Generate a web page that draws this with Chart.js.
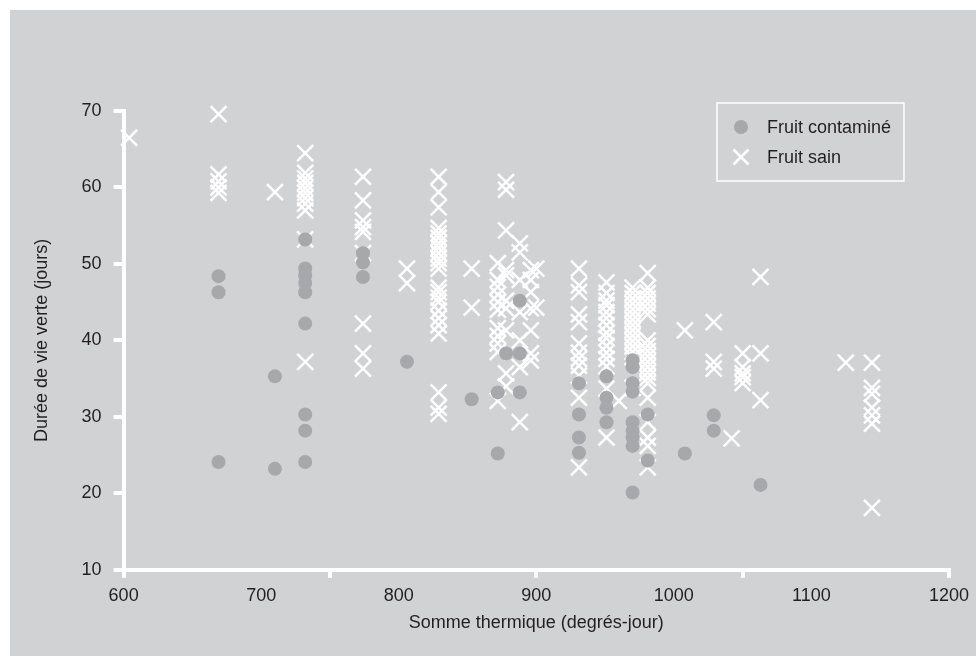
<!DOCTYPE html>
<html lang="fr">
<head>
    <meta charset="UTF-8">
    <title>Durée de vie verte et somme thermique</title>
    <script src="https://cdn.jsdelivr.net/npm/chart.js@4.4.1/dist/chart.umd.min.js"></script>
    <style>
        html, body {
            margin: 0;
            padding: 0;
            background: #fff;
        }
        .panel {
            position: absolute;
            left: 10px;
            top: 10px;
            width: 966px;
            height: 646px;
            background: #d1d2d4;
        }
        canvas {
            display: block;
        }
    </style>
</head>
<body>
    <div class="panel"><canvas id="chart" width="966" height="646"></canvas></div>

    <script>
        // Somme thermique (degrés-jour) of each column, and the durations read in that column
        const contamineSommes = [669, 710, 732, 774, 806, 853, 872, 878, 888, 931, 951, 970, 981, 1008, 1029, 1063];
        const contamineDurees = [
            [48.4, 46.3, 24.1],
            [35.3, 23.2],
            [53.2, 49.4, 48.5, 47.5, 46.3, 42.2, 30.3, 28.2, 24.1],
            [51.4, 50.2, 48.3],
            [37.2],
            [32.3],
            [33.2, 25.2],
            [38.3],
            [45.2, 38.3, 33.2],
            [34.4, 30.3, 27.3, 25.3],
            [35.3, 32.5, 31.2, 29.3],
            [37.4, 36.5, 34.4, 33.3, 29.3, 28.2, 27.3, 26.2, 20.1],
            [30.3, 24.3],
            [25.2],
            [30.2, 28.2],
            [21.1]
        ];

        const sainSommes = [604, 669, 710, 732, 774, 806, 829, 853, 872, 878, 888, 896, 900, 931, 951, 960, 970, 981, 1008, 1029, 1042, 1050, 1063, 1125, 1144];
        const sainDurees = [
            [66.5],
            [69.6, 61.7, 60.8, 60.0, 59.3],
            [59.4],
            [64.5, 61.9, 61.2, 60.6, 59.9, 59.3, 58.6, 57.9, 57.0, 53.2, 37.2],
            [61.4, 58.3, 55.7, 54.8, 54.2, 51.4, 42.2, 38.3, 36.3],
            [49.4, 47.5],
            [61.4, 59.4, 57.4, 54.7, 54.0, 53.4, 52.7, 52.1, 51.4, 50.7, 50.1, 49.4,
             46.9, 46.3, 45.6, 45.0, 43.9, 42.9, 42.0, 40.9, 33.2, 31.2, 30.4],
            [49.4, 44.3],
            [50.1, 47.9, 47.0, 46.0, 45.0, 44.0, 41.6, 40.6, 39.6, 38.5, 32.1],
            [60.7, 59.7, 54.4, 49.2, 48.5, 45.2, 44.2, 41.3, 35.7, 34.0],
            [52.7, 51.5, 47.9, 43.7, 40.0, 36.5, 29.3],
            [49.2, 47.9, 46.3, 44.2, 41.3, 38.3, 37.4],
            [49.4, 44.3],
            [49.4, 47.2, 46.3, 43.4, 42.4, 39.6, 38.4, 37.6, 36.7, 35.4, 32.5, 23.4],
            [47.6, 46.2, 45.2, 44.6, 43.7, 42.9, 42.0, 41.0, 40.3, 39.3, 38.4, 37.6, 36.6, 33.7, 27.3],
            [32.1],
            [46.9, 46.2, 45.5, 44.8, 44.1, 43.4, 42.7, 42.0, 41.3, 40.6, 39.9, 39.2, 38.5, 37.8, 33.8],
            [48.8, 46.9, 46.2, 45.5, 44.8, 44.1, 43.4, 40.0, 39.3, 38.6, 37.9, 37.2, 36.5,
             35.8, 35.1, 34.4, 32.5, 29.3, 27.3, 26.2, 23.4],
            [41.3],
            [42.4, 37.2, 36.3],
            [27.2],
            [38.3, 36.5, 35.7, 35.2, 34.4],
            [48.3, 38.3, 32.2],
            [37.1],
            [37.1, 33.8, 33.0, 31.2, 30.2, 29.1, 18.1]
        ];

        const seriesLabels = ['Fruit contaminé', 'Fruit sain'];
        const xLabelStep = 100;   // labels every 100
        const xMarkStep = 150;    // tick marks every 150

        function toPoints(sommes, durees) {
            const points = [];
            sommes.forEach((x, i) => {
                durees[i].forEach(y => points.push({ x: x, y: y }));
            });
            return points;
        }

        const FONT = '"Liberation Sans", Arial, sans-serif';
        const TEXT = '#231f20';

        // legend drawn in a framed box inside the plot, top right
        const legendBox = {
            id: 'legendBox',
            afterDraw(chart) {
                const { ctx, chartArea } = chart;
                const left = chartArea.right - 232;
                const top = chartArea.top - 8;
                ctx.save();
                ctx.strokeStyle = '#ffffff';
                ctx.lineWidth = 1.5;
                ctx.strokeRect(left, top, 187, 78);
                ctx.font = '18px ' + FONT;
                ctx.textBaseline = 'middle';
                chart.data.datasets.forEach((ds, i) => {
                    const cx = left + 24;
                    const cy = top + 24 + i * 30;
                    if (ds.pointStyle === 'circle') {
                        ctx.beginPath();
                        ctx.arc(cx, cy, 7, 0, Math.PI * 2);
                        ctx.fillStyle = ds.backgroundColor;
                        ctx.fill();
                    } else {
                        ctx.beginPath();
                        ctx.moveTo(cx - 7.5, cy - 7.5);
                        ctx.lineTo(cx + 7.5, cy + 7.5);
                        ctx.moveTo(cx - 7.5, cy + 7.5);
                        ctx.lineTo(cx + 7.5, cy - 7.5);
                        ctx.strokeStyle = ds.borderColor;
                        ctx.lineWidth = ds.borderWidth;
                        ctx.stroke();
                    }
                    ctx.fillStyle = TEXT;
                    ctx.fillText(ds.label, left + 50, cy + 1);
                });
                ctx.restore();
            }
        };

        new Chart(document.getElementById('chart'), {
            type: 'scatter',
            data: {
                datasets: [
                    {
                        label: seriesLabels[0],
                        data: toPoints(contamineSommes, contamineDurees),
                        pointStyle: 'circle',
                        pointRadius: 7,
                        backgroundColor: '#a7a8ab',
                        borderWidth: 0,
                        clip: false
                    },
                    {
                        label: seriesLabels[1],
                        data: toPoints(sainSommes, sainDurees),
                        pointStyle: 'crossRot',
                        pointRadius: 11.3,
                        borderColor: '#ffffff',
                        backgroundColor: '#ffffff',
                        borderWidth: 2.5,
                        clip: false
                    }
                ]
            },
            options: {
                responsive: false,
                devicePixelRatio: 1,
                animation: false,
                events: [],
                layout: {
                    padding: { top: 101, right: 26, bottom: 22, left: 21 }
                },
                plugins: {
                    legend: { display: false },
                    tooltip: { enabled: false }
                },
                scales: {
                    x: {
                        type: 'linear',
                        min: 600,
                        max: 1200,
                        border: { display: true, color: '#ffffff', width: 4 },
                        grid: {
                            drawOnChartArea: false,
                            drawTicks: true,
                            tickLength: 8,
                            lineWidth: 4,
                            color: (c) => (c.tick && c.tick.value % xMarkStep === 0) ? '#ffffff' : 'rgba(0,0,0,0)'
                        },
                        ticks: {
                            stepSize: 50,
                            autoSkip: false,
                            maxRotation: 0,
                            padding: 7,
                            color: TEXT,
                            font: { family: FONT, size: 18 },
                            callback: (v) => v % xLabelStep === 0 ? v : ''
                        },
                        title: {
                            display: true,
                            text: 'Somme thermique (degrés-jour)',
                            color: TEXT,
                            font: { family: FONT, size: 18 },
                            padding: { top: -1, bottom: 0 }
                        }
                    },
                    y: {
                        min: 10,
                        max: 70,
                        border: { display: true, color: '#ffffff', width: 4 },
                        grid: {
                            drawOnChartArea: false,
                            drawTicks: true,
                            tickLength: 10,
                            lineWidth: 4,
                            color: '#ffffff'
                        },
                        ticks: {
                            stepSize: 10,
                            padding: 12,
                            color: TEXT,
                            font: { family: FONT, size: 18 }
                        },
                        title: {
                            display: true,
                            text: 'Durée de vie verte (jours)',
                            color: TEXT,
                            font: { family: FONT, size: 18 },
                            padding: { top: 0, bottom: 17 }
                        }
                    }
                }
            },
            plugins: [legendBox]
        });
    </script>
</body>
</html>
